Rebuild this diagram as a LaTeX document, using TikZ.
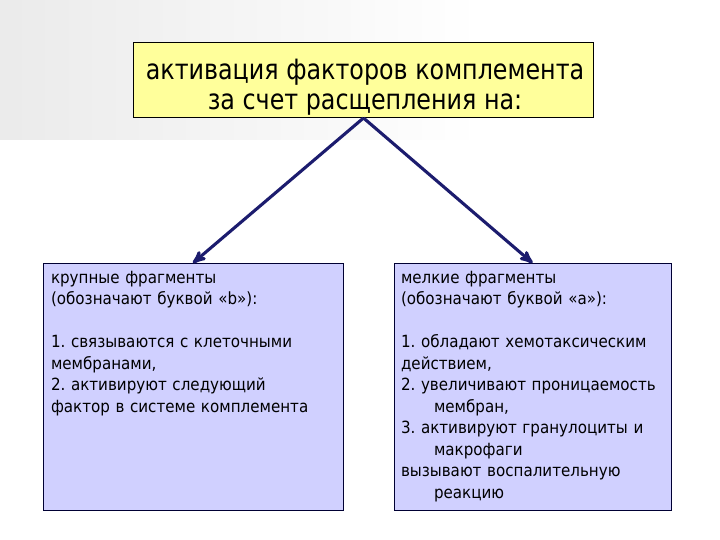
\documentclass[tikz,border=0pt]{standalone}
\usepackage{fontspec}
\setmainfont{DejaVu Sans}[FakeStretch=0.9]
\newfontfamily\headfont{DejaVu Sans}[FakeStretch=0.85]
\usepackage{tikz}
\usetikzlibrary{arrows}
\usetikzlibrary{positioning}
\frenchspacing
\newcommand\defaultarrowstyle{stealth'}
\tikzset{>=\defaultarrowstyle}
\newcommand\linewd{1pt}
\newcommand\arrowwidth{3.1pt}
\definecolor{titlecolour}{RGB}{255,255,155}
\definecolor{fragcolour}{RGB}{208,208,255}
\definecolor{arrowcolour}{RGB}{28,28,110}
\tikzstyle{titlebox}  = [draw=black, line width=\linewd, fill=titlecolour, minimum width=460pt,
  minimum height=75pt]
\tikzstyle{titletext} = [align=center, font=\headfont\fontsize{28}{30}\selectfont]
\tikzstyle{fragbox}   = [draw=black!80!blue, line width=\linewd, fill=fragcolour, minimum height=247pt]
\tikzstyle{fragtext}  = [anchor=north west, align=left, font=\fontsize{16.8}{21.5}\selectfont]
\tikzstyle{split}     = [line width=\arrowwidth, color=arrowcolour]

\begin{document}
\begin{tikzpicture}[x=1pt, y=-1pt]
  \useasboundingbox (0,0) rectangle (720,540);
  \shade[left color=black!8, right color=white] (0,0) rectangle (480,140);
  \tikzstyle{every node}=[inner sep=0pt, outer sep=0pt]
  \draw (363.5,80.5) node[titlebox] (act) {};
  \draw (365,87) node[titletext] (acttext) {активация факторов комплемента\\за счет расщепления на:};
  \draw (193,386.5) node[fragbox, minimum width=300pt] (big) {};
  \draw (532.5,386.5) node[fragbox, minimum width=277pt] (small) {};
  \draw (51,271) node[fragtext, text width=288pt] (bigtext) {крупные фрагменты\\
    (обозначают буквой «b»):\\[21.5pt]
    1. связываются с клеточными\\
    мембранами,\\
    2. активируют следующий\\
    фактор в системе комплемента};
  \draw (401,271) node[fragtext, text width=268pt] (smalltext) {мелкие фрагменты\\
    (обозначают буквой «а»):\\[21.5pt]
    1. обладают хемотаксическим\\
    действием,\\
    2. увеличивают проницаемость\\
    \hspace*{33pt}мембран,\\
    3. активируют гранулоциты и\\
    \hspace*{33pt}макрофаги\\
    вызывают воспалительную\\
    \hspace*{33pt}реакцию};
  \draw (act.south) -- (big.north) [->, split];
  \draw (act.south) -- (small.north) [->, split];
\end{tikzpicture}
\end{document}
